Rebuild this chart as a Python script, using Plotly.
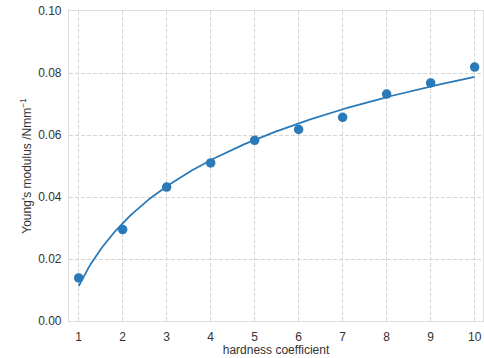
import numpy as np
import plotly.graph_objects as go

# Data
hardness = [1, 2, 3, 4, 5, 6, 7, 8, 9, 10]
youngs_modulus = [0.0139, 0.0295, 0.0432, 0.0510, 0.0583, 0.0618, 0.0657, 0.0732, 0.0768, 0.0819]
y_ticks = [0.00, 0.02, 0.04, 0.06, 0.08, 0.10]
x_ticks = [1, 2, 3, 4, 5, 6, 7, 8, 9, 10]

# Logarithmic least-squares fit y = a + b*ln(x) from the data
b, a = np.polyfit(np.log(hardness), youngs_modulus, 1)
x_fit = np.linspace(min(hardness), max(hardness), 200)
y_fit = a + b * np.log(x_fit)

color = "#2a7ab9"
fig = go.Figure()
fig.add_trace(go.Scatter(x=x_fit, y=y_fit, mode="lines",
                         line=dict(color=color, width=1.8), showlegend=False))
fig.add_trace(go.Scatter(x=hardness, y=youngs_modulus, mode="markers",
                         marker=dict(color=color, size=9.5), showlegend=False,
                         cliponaxis=False))

font = "Liberation Sans, Arial, sans-serif"
axis_common = dict(
    showgrid=True, gridcolor="#d6d6d6", griddash="4px,2px", gridwidth=1,
    showline=True, linecolor="#dddddd", linewidth=1.2, mirror=True,
    zeroline=False, ticks="outside", ticklen=4, tickcolor="rgba(0,0,0,0)",
    tickfont=dict(family=font, size=12, color="#333333"),
    automargin=False,
)
fig.update_layout(
    width=484, height=358,
    margin=dict(l=69, r=1, t=11, b=37),
    paper_bgcolor="white", plot_bgcolor="white",
    font=dict(family=font, size=12, color="#333333"),
    xaxis=dict(range=[0.78, 10.19], tickvals=x_ticks,
               title=dict(text="hardness coefficient", standoff=2,
                          font=dict(family=font, size=12, color="#333333")),
               **axis_common),
    yaxis=dict(range=[0, 0.10], tickvals=y_ticks, tickformat=".2f",
               title=dict(text="Young's modulus /Nmm<sup>−1</sup>", standoff=3,
                          font=dict(family=font, size=12, color="#333333")),
               **axis_common),
)
fig.write_html("out.html", config={"displayModeBar": False},
               post_script="document.body.style.margin='0';document.body.style.overflow='hidden';")
